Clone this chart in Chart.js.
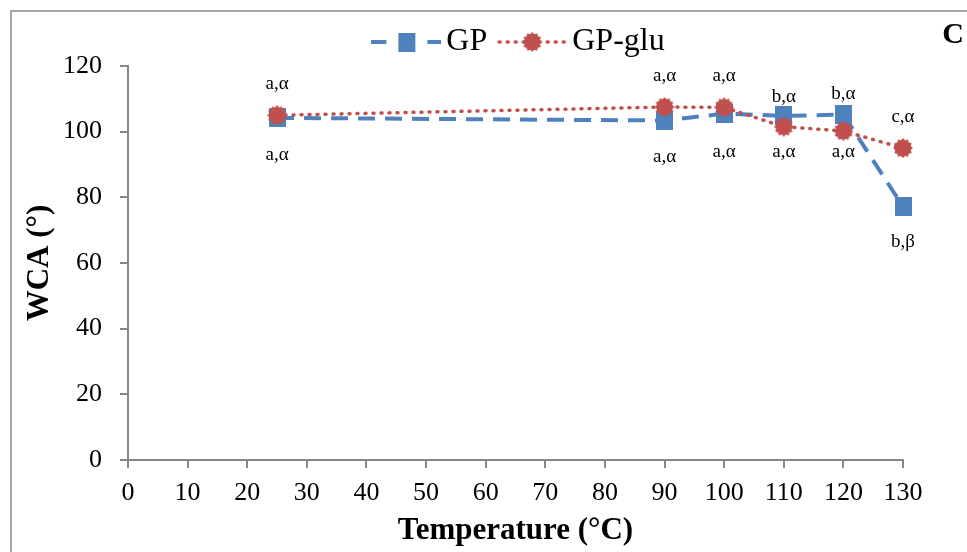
<!DOCTYPE html>
<html>
<head>
<meta charset="utf-8">
<script src="https://cdn.jsdelivr.net/npm/chart.js@4.4.1/dist/chart.umd.min.js"></script>
<style>
    html, body { margin: 0; padding: 0; background: #fff; }
    #wrap { position: relative; width: 967px; height: 552px; overflow: hidden; }
    #frame {
        position: absolute; left: 10px; top: 10px; width: 1000px; height: 600px;
        border-left: 2px solid #a6a6a6; border-top: 2px solid #a6a6a6;
        pointer-events: none;
    }
</style>
</head>
<body>
<div id="wrap">
    <canvas id="wca-chart" width="967" height="552"></canvas>
    <div id="frame"></div>
</div>
<script>
// Temperatures (°C) where WCA was measured
const temperatures = [25, 90, 100, 110, 120, 130];

// Water contact angle (°)
const gpValues = [104.2, 103.4, 105.5, 104.8, 105.2, 77.2];
const gpGluValues = [105.0, 107.5, 107.4, 101.5, 100.2, 95.0];

// Significance letters shown above / below each temperature
const lettersAbove = ['a,α', 'a,α', 'a,α', 'b,α', 'b,α', 'c,α'];
const lettersBelow = ['a,α', 'a,α', 'a,α', 'a,α', 'a,α', 'b,β'];

// Axis ticks
const xTicks = [0, 10, 20, 30, 40, 50, 60, 70, 80, 90, 100, 110, 120, 130];
const yTicks = [0, 20, 40, 60, 80, 100, 120];

const BLUE = '#4f81bd';
const RED = '#c0504d';
const AXIS = '#868686';
const SERIF = '"Liberation Serif", "Times New Roman", serif';

// square marker for GP
function makeSquare(w, h) {
    const c = document.createElement('canvas');
    c.width = w; c.height = h;
    const g = c.getContext('2d');
    g.fillStyle = BLUE;
    g.fillRect(0, 0, w, h);
    return c;
}

// spiky round marker for GP-glu
function makeBlob(size) {
    const c = document.createElement('canvas');
    c.width = size; c.height = size;
    const g = c.getContext('2d');
    const r = size / 2;
    g.fillStyle = RED;
    g.beginPath();
    const n = 12;
    for (let i = 0; i < n * 2; i++) {
        const a = (Math.PI * i) / n;
        const rr = i % 2 === 0 ? r : r - 2;
        g.lineTo(r + rr * Math.cos(a), r + rr * Math.sin(a));
    }
    g.closePath();
    g.fill();
    return c;
}

// legend symbol: line segment with marker in the middle
function makeLegendIcon(marker, color, dash, width, round) {
    const c = document.createElement('canvas');
    c.width = 70; c.height = 24;
    const g = c.getContext('2d');
    g.strokeStyle = color;
    g.lineWidth = width;
    g.setLineDash(dash);
    g.lineCap = round ? 'round' : 'butt';
    g.beginPath();
    g.moveTo(round ? 2 : 0, 12);
    g.lineTo(70, 12);
    g.stroke();
    g.drawImage(marker, 35 - marker.width / 2, 12 - marker.height / 2);
    return c;
}

const gpMarker = makeSquare(17, 19);
const gluMarker = makeBlob(20);
const legendIcons = {
    'GP': makeLegendIcon(gpMarker, BLUE, [15, 13], 4, false),
    'GP-glu': makeLegendIcon(gluMarker, RED, [1, 7], 3.5, true)
};

// draws the letters near the points and the panel letter
const lettersPlugin = {
    id: 'letters',
    afterDatasetsDraw(chart) {
        const ctx = chart.ctx;
        const x = chart.scales.x;
        const y = chart.scales.y;
        const aboveDy = [-31, -31, -31, -19, -21, -31];
        const belowDy = [37, 37, 38, 25, 21, 35];
        ctx.save();
        ctx.fillStyle = '#000';
        ctx.font = '19px ' + SERIF;
        ctx.textAlign = 'center';
        ctx.textBaseline = 'middle';
        temperatures.forEach((t, i) => {
            const px = x.getPixelForValue(t);
            const top = y.getPixelForValue(Math.max(gpValues[i], gpGluValues[i]));
            const bottom = y.getPixelForValue(Math.min(gpValues[i], gpGluValues[i]));
            const upRef = (i === 3 || i === 4) ? y.getPixelForValue(gpValues[i]) : top;
            const downRef = (i === 3 || i === 4) ? y.getPixelForValue(gpGluValues[i]) : bottom;
            ctx.fillText(lettersAbove[i], px, upRef + aboveDy[i]);
            ctx.fillText(lettersBelow[i], px, downRef + belowDy[i]);
        });
        ctx.font = 'bold 30px ' + SERIF;
        ctx.fillText('C', 953, 35);
        ctx.restore();
    },
    afterLayout(chart) {
        // nudge the legend to where it sits in the original
        const lg = chart.legend;
        lg.left += 72;
        lg.right += 72;
        lg.top += 2;
        lg.bottom += 2;
    }
};

new Chart(document.getElementById('wca-chart'), {
    type: 'line',
    data: {
        datasets: [
            {
                label: 'GP',
                data: temperatures.map((t, i) => ({ x: t, y: gpValues[i] })),
                borderColor: BLUE,
                backgroundColor: BLUE,
                borderWidth: 4,
                borderDash: [17, 10],
                pointStyle: gpMarker,
                clip: false,
                order: 1,
                tension: 0
            },
            {
                label: 'GP-glu',
                data: temperatures.map((t, i) => ({ x: t, y: gpGluValues[i] })),
                borderColor: RED,
                backgroundColor: RED,
                borderWidth: 3.5,
                borderDash: [1, 7],
                borderCapStyle: 'round',
                pointStyle: gluMarker,
                clip: false,
                order: 0,
                tension: 0
            }
        ]
    },
    options: {
        responsive: false,
        animation: false,
        layout: { padding: { top: 3, left: 0, right: 64, bottom: 0 } },
        plugins: {
            tooltip: { enabled: false },
            legend: {
                display: true,
                position: 'top',
                labels: {
                    usePointStyle: true,
                    pointStyleWidth: 48,
                    padding: 21,
                    color: '#000',
                    font: { family: SERIF, size: 32 },
                    generateLabels(chart) {
                        const items = Chart.defaults.plugins.legend.labels.generateLabels(chart);
                        items.forEach(item => { item.pointStyle = legendIcons[item.text]; });
                        return items.sort((a, b) => a.datasetIndex - b.datasetIndex);
                    }
                }
            }
        },
        scales: {
            x: {
                type: 'linear',
                min: 0,
                max: 130,
                afterBuildTicks(scale) {
                    scale.ticks = xTicks.map(v => ({ value: v }));
                },
                afterFit(scale) { scale.height = 92; },
                grid: { drawOnChartArea: false, drawTicks: true, tickLength: 8, color: AXIS, lineWidth: 2 },
                border: { color: AXIS, width: 2 },
                ticks: { color: '#000', padding: 10, maxRotation: 0, autoSkip: false, font: { family: SERIF, size: 26 } },
                title: {
                    display: true,
                    text: 'Temperature (°C)',
                    color: '#000',
                    font: { family: SERIF, size: 31, weight: 'bold' },
                    padding: { top: 0, bottom: 2 }
                }
            },
            y: {
                min: 0,
                max: 120,
                afterBuildTicks(scale) {
                    scale.ticks = yTicks.map(v => ({ value: v }));
                },
                afterFit(scale) { scale.width = 128; },
                grid: { drawOnChartArea: false, drawTicks: true, tickLength: 8, color: AXIS, lineWidth: 2 },
                border: { color: AXIS, width: 2 },
                ticks: { color: '#000', padding: 18, font: { family: SERIF, size: 26 } },
                title: {
                    display: true,
                    text: 'WCA (°)',
                    color: '#000',
                    font: { family: SERIF, size: 31, weight: 'bold' },
                    padding: { top: 21, bottom: 0 }
                }
            }
        }
    },
    plugins: [lettersPlugin]
});
</script>
</body>
</html>
